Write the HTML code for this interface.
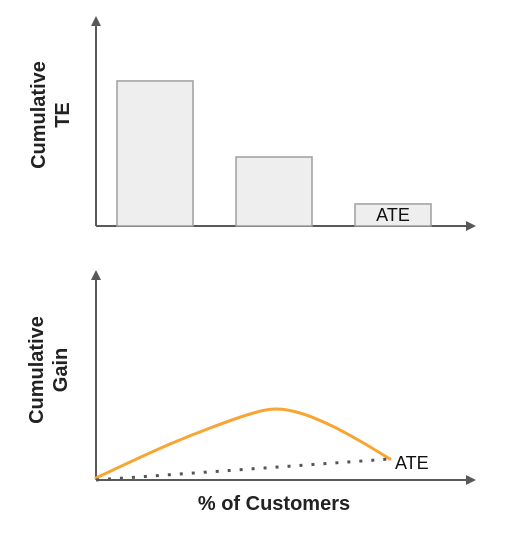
<!DOCTYPE html>
<html><head><meta charset="utf-8"><style>
body{margin:0;background:#fff;width:509px;height:536px;overflow:hidden}
text{font-family:"Liberation Sans",sans-serif}
</style></head><body>
<svg id="c" width="509" height="536">
<defs><marker id="ar" markerWidth="10" markerHeight="10" refX="8" refY="5" orient="auto" markerUnits="userSpaceOnUse"><path d="M0,0 L10,5 L0,10 z" fill="#595959"/></marker></defs>
<g id="gtop"></g>
<g id="gbot"></g>
</svg>
<script>
const barCats=["segment-1","segment-2","ate"];
const barVals=[96.7,46,14.7];
const barLabels=["","","ATE"];
const gainPct=[0,11.6,25.2,38.8,52.4,61,69.4,79.6,89.8,100];
const gainVals=[2,18,36,52,66,71,67,55,39,21];
const ateStart=0, ateEnd=21;
const NS="http://www.w3.org/2000/svg";
function mk(p,t,a){const e=document.createElementNS(NS,t);for(const k in a)e.setAttribute(k,a[k]);p.appendChild(e);return e;}
const gTop=document.getElementById('gtop'),gBot=document.getElementById('gbot');
const yTE=v=>226-v*1.5, xBar=i=>117+i*119;
let a=mk(gTop,'line',{x1:96,y1:226,x2:96,y2:18,stroke:'#595959','stroke-width':2,'marker-end':'url(#ar)'});


a=mk(gTop,'line',{x1:96,y1:226,x2:474,y2:226,stroke:'#595959','stroke-width':2,'marker-end':'url(#ar)'});


barVals.forEach((v,i)=>{
 const r=mk(gTop,'rect',{x:xBar(i),y:yTE(v),width:76,height:226-yTE(v),fill:'#eeeeee',stroke:'#9e9e9e','stroke-width':1.5});
 
 
 if(barLabels[i]){const t=mk(gTop,'text',{x:xBar(i)+38,y:yTE(v)+17,'text-anchor':'middle','font-size':18,fill:'#111'});t.textContent=barLabels[i];
 
 }
});
let t=mk(gTop,'text',{transform:'translate(45,115) rotate(-90)','text-anchor':'middle','font-size':20,'font-weight':'bold',fill:'#222'});
t.innerHTML='<tspan x="0" dy="0">Cumulative</tspan><tspan x="0" dy="24">TE</tspan>';


const xG=p=>96+p*2.94, yG=g=>480-g;
a=mk(gBot,'line',{x1:96,y1:480,x2:96,y2:272,stroke:'#595959','stroke-width':2,'marker-end':'url(#ar)'});


a=mk(gBot,'line',{x1:96,y1:480,x2:474,y2:480,stroke:'#595959','stroke-width':2,'marker-end':'url(#ar)'});


const P=gainPct.map((p,i)=>[xG(p),yG(gainVals[i])]);
let d='M'+P[0][0]+','+P[0][1];
for(let i=0;i<P.length-1;i++){
 const p0=P[i-1]||P[i],p1=P[i],p2=P[i+1],p3=P[i+2]||P[i+1];
 const c1=[p1[0]+(p2[0]-p0[0])/6,p1[1]+(p2[1]-p0[1])/6],c2=[p2[0]-(p3[0]-p1[0])/6,p2[1]-(p3[1]-p1[1])/6];
 d+=` C${c1[0]},${c1[1]} ${c2[0]},${c2[1]} ${p2[0]},${p2[1]}`;
}
a=mk(gBot,'path',{d:d,fill:'none',stroke:'#f9a534','stroke-width':3,'stroke-linejoin':'round','stroke-linecap':'round'});


a=mk(gBot,'line',{x1:xG(0),y1:yG(ateStart),x2:xG(100),y2:yG(ateEnd),stroke:'#555','stroke-width':3,'stroke-dasharray':'3 9'});


t=mk(gBot,'text',{x:xG(100)+5,y:yG(ateEnd)+10,'font-size':18,fill:'#111'});t.textContent='ATE';


t=mk(gBot,'text',{transform:'translate(43,370) rotate(-90)','text-anchor':'middle','font-size':20,'font-weight':'bold',fill:'#222'});
t.innerHTML='<tspan x="0" dy="0">Cumulative</tspan><tspan x="0" dy="24">Gain</tspan>';


t=mk(gBot,'text',{x:274,y:510,'text-anchor':'middle','font-size':20,'font-weight':'bold',fill:'#222'});t.textContent='% of Customers';


</script>
</body></html>
